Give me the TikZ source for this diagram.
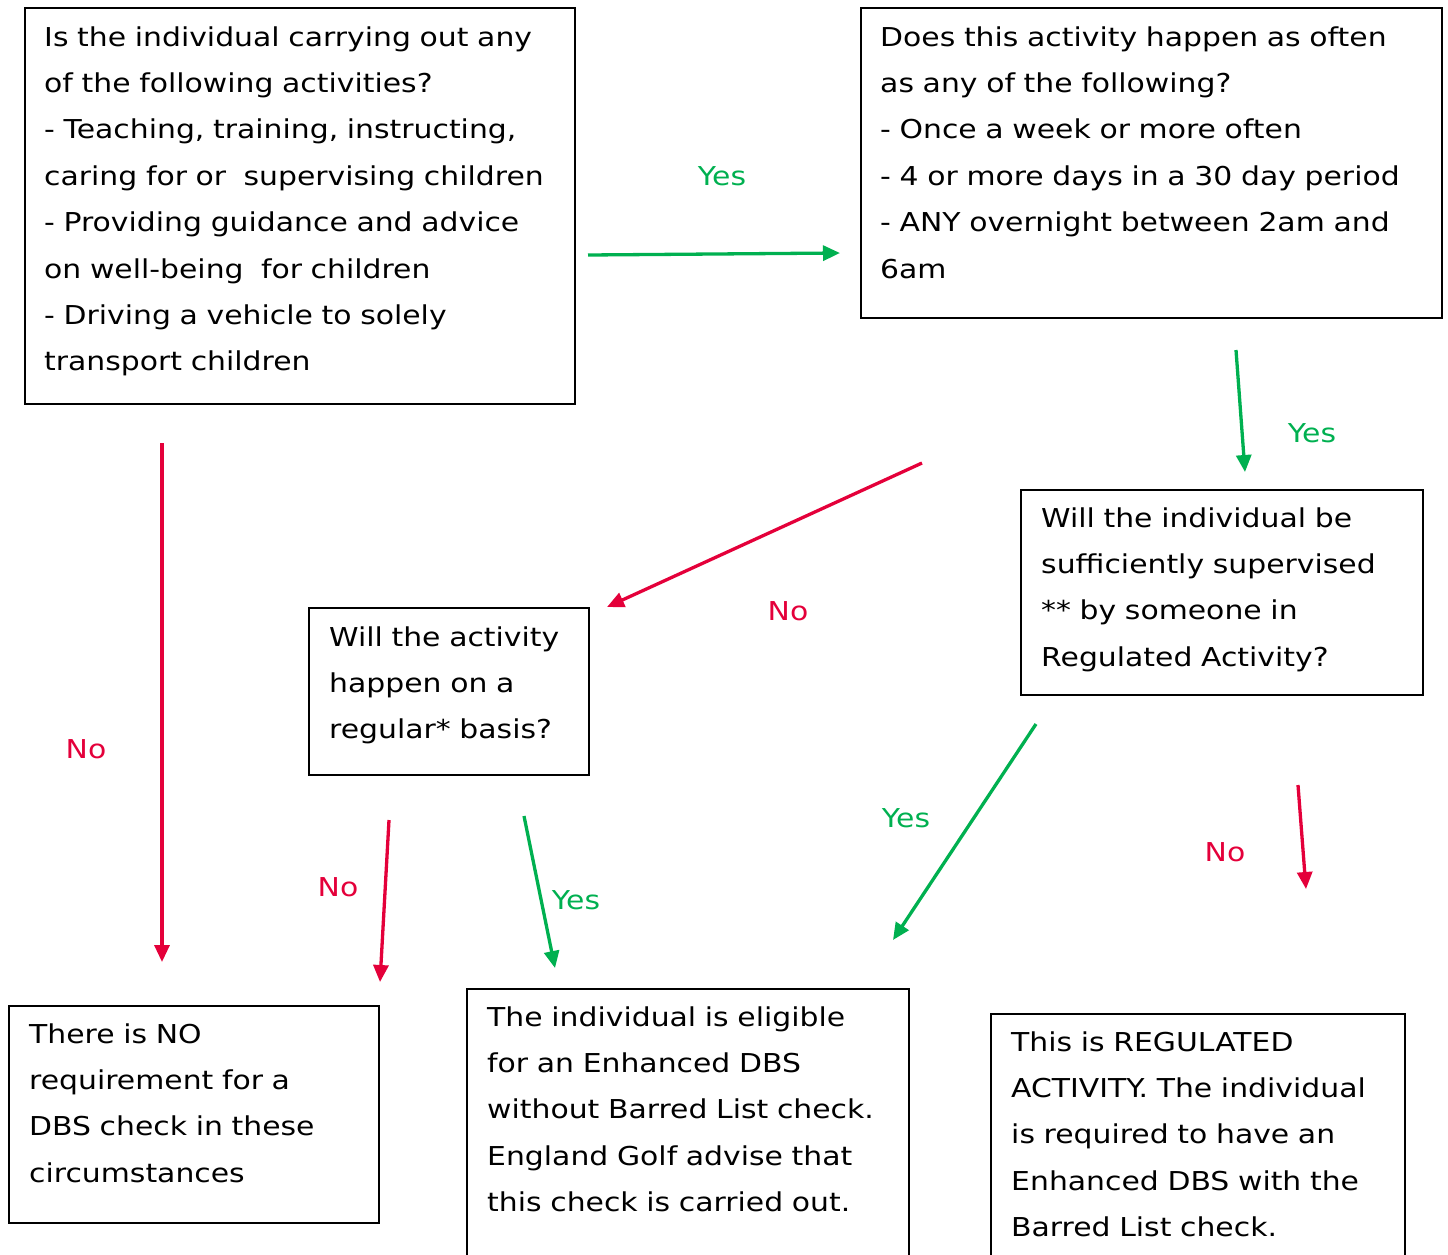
\documentclass[tikz,border=0pt]{standalone}
\usepackage{fontspec}
\setmainfont{DejaVu Sans}[FakeStretch=1.148]
\usetikzlibrary{arrows.meta}
\definecolor{yesgreen}{RGB}{0,176,80}
\definecolor{nored}{RGB}{228,0,58}
\begin{document}
\begin{tikzpicture}[x=1pt,y=-1pt,
  box/.style={draw=black, line width=2pt, inner sep=0pt, anchor=north west},
  txt/.style={anchor=base west, inner sep=0pt, align=left, text width=#1,
    font=\fontsize{26}{46.4}\selectfont},
  yesarrow/.style={draw=yesgreen, line width=3.3pt, -{Triangle[length=17pt,width=15pt]}},
  noarrow/.style={draw=nored, line width=3.3pt, -{Triangle[length=17pt,width=15pt]}},
  yeslab/.style={text=yesgreen, inner sep=0pt, font=\fontsize{26}{30}\selectfont},
  nolab/.style={text=nored, inner sep=0pt, font=\fontsize{26}{30}\selectfont}]
\useasboundingbox (0,0) rectangle (1448,1254);

% boxes
\node[box, minimum width=550pt, minimum height=396pt] (qa) at (24,7) {};
\node[txt=545pt] (qat) at (44,46) {Is the individual carrying out any\\
of the following activities?\\
- Teaching, training, instructing,\\
caring for or\ \ supervising children\\
- Providing guidance and advice\\
on well-being\ \ for children\\
- Driving a vehicle to solely\\
transport children};

\node[box, minimum width=581pt, minimum height=310pt] (qb) at (860,7) {};
\node[txt=570pt] (qbt) at (880,46) {Does this activity happen as often\\
as any of the following?\\
- Once a week or more often\\
- 4 or more days in a 30 day period\\
- ANY overnight between 2am and\\
6am};

\node[box, minimum width=402pt, minimum height=205pt] (qc) at (1020,489) {};
\node[txt=395pt] (qct) at (1041,527) {Will the individual be\\
sufficiently supervised\\
{}** by someone in\\
Regulated Activity?};

\node[box, minimum width=280pt, minimum height=167pt] (qd) at (308,607) {};
\node[txt=275pt] (qdt) at (329,646) {Will the activity\\
happen on a\\
regular* basis?};

\node[box, minimum width=370pt, minimum height=217pt] (re) at (8,1005) {};
\node[txt=365pt] (ret) at (29,1043) {There is NO\\
requirement for a\\
DBS check in these\\
circumstances};

\node[box, minimum width=442pt, minimum height=300pt] (rf) at (466,988) {};
\node[txt=435pt] (rft) at (487,1026) {The individual is eligible\\
for an Enhanced DBS\\
without Barred List check.\\
England Golf advise that\\
this check is carried out.};

\node[box, minimum width=414pt, minimum height=300pt] (rg) at (990,1013) {};
\node[txt=405pt] (rgt) at (1011,1051) {This is REGULATED\\
ACTIVITY. The individual\\
is required to have an\\
Enhanced DBS with the\\
Barred List check.};

% arrow end points
\coordinate (ab1) at (588,255); \coordinate (ab2) at (840,253);
\coordinate (bc1) at (1236,350); \coordinate (bc2) at (1245,472);
\coordinate (bd1) at (922,463); \coordinate (bd2) at (607,607);
\coordinate (ae1) at (162,443); \coordinate (ae2) at (162,962);
\coordinate (de1) at (389,820); \coordinate (de2) at (380,982);
\coordinate (df1) at (524,816); \coordinate (df2) at (555,968);
\coordinate (cf1) at (1036,724); \coordinate (cf2) at (893,940);
\coordinate (cg1) at (1298,785); \coordinate (cg2) at (1306,889);

\draw[yesarrow] (ab1) -- (ab2);
\draw[yesarrow] (bc1) -- (bc2);
\draw[noarrow] (bd1) -- (bd2);
\draw[noarrow] (ae1) -- (ae2);
\draw[noarrow] (de1) -- (de2);
\draw[yesarrow] (df1) -- (df2);
\draw[yesarrow] (cf1) -- (cf2);
\draw[noarrow] (cg1) -- (cg2);

% labels
\node[yeslab] (l1) at (722,176) {Yes};
\node[yeslab] (l2) at (1312,433) {Yes};
\node[nolab] (l3) at (788,611) {No};
\node[nolab] (l4) at (86,749) {No};
\node[nolab] (l5) at (338,887) {No};
\node[yeslab] (l6) at (576,900) {Yes};
\node[yeslab] (l7) at (906,818) {Yes};
\node[nolab] (l8) at (1225,852) {No};
\end{tikzpicture}
\end{document}
